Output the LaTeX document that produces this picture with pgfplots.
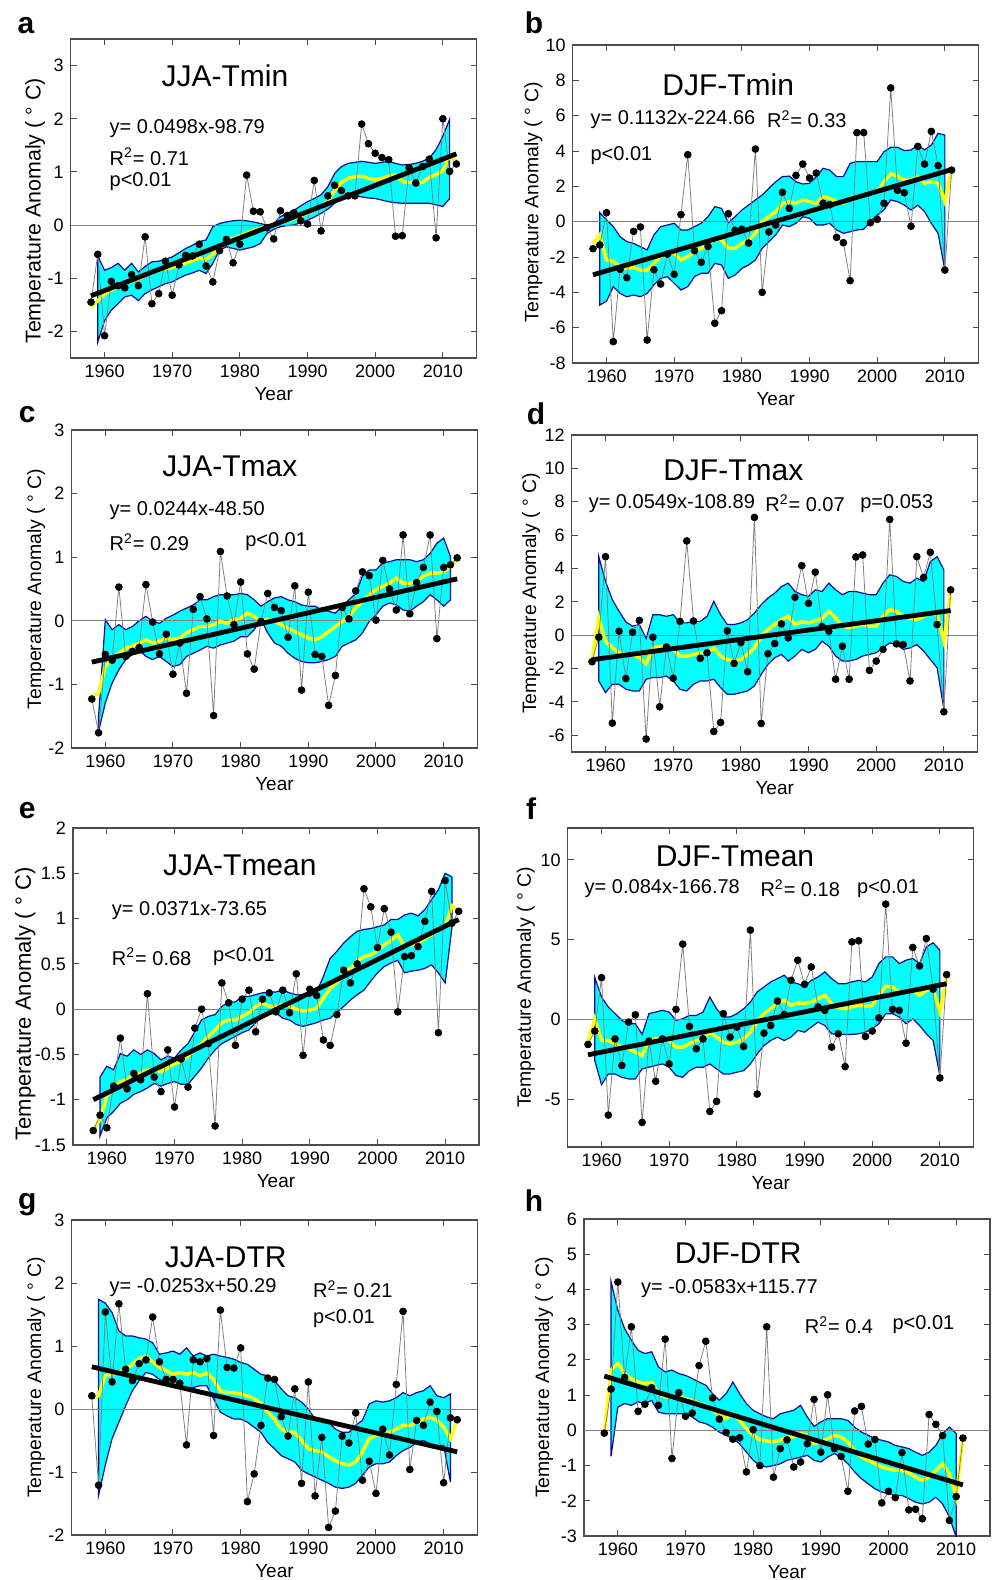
\documentclass[border=0pt]{standalone}
\usepackage{fontspec}
\setmainfont{Liberation Sans}
\usepackage{pgfplots}
\pgfplotsset{compat=1.18}
\usepackage{pgfplotstable}
\definecolor{bandedge}{RGB}{10,10,150}
\definecolor{bandfill}{RGB}{0,255,255}
\definecolor{yelc}{RGB}{255,255,0}

% ---------------- Panel a : JJA-Tmin ----------------
\pgfplotstableread[row sep=\\]{yr v\\
1958 -1.45\\1959 -0.55\\1960 -2.08\\1961 -1.06\\1962 -1.14\\1963 -1.18\\1964 -0.93\\1965 -1.14\\1966 -0.22\\1967 -1.48\\
1968 -1.29\\1969 -0.68\\1970 -1.32\\1971 -0.75\\1972 -0.57\\1973 -0.58\\1974 -0.36\\1975 -0.77\\1976 -1.07\\1977 -0.48\\
1978 -0.27\\1979 -0.71\\1980 -0.36\\1981 0.94\\1982 0.26\\1983 0.25\\1984 -0.05\\1985 -0.26\\1986 0.27\\1987 0.18\\
1988 0.23\\1989 0.08\\1990 0.02\\1991 0.84\\1992 -0.11\\1993 0.55\\1994 0.75\\1995 0.65\\1996 0.55\\1997 0.55\\
1998 1.90\\1999 1.53\\2000 1.35\\2001 1.27\\2002 1.23\\2003 -0.21\\2004 -0.20\\2005 1.08\\2006 0.79\\2007 1.10\\
2008 1.24\\2009 -0.24\\2010 2.00\\2011 1.01\\2012 1.15\\}\ptsA
\pgfplotstableread[row sep=\\]{yr v\\
1958 -1.55\\1959 -1.42\\1960 -1.30\\1961 -1.22\\1962 -1.15\\1963 -1.10\\1964 -1.05\\1965 -1.02\\1966 -0.95\\1967 -0.90\\
1968 -0.85\\1969 -0.82\\1970 -0.80\\1971 -0.76\\1972 -0.72\\1973 -0.67\\1974 -0.62\\1975 -0.65\\1976 -0.55\\1977 -0.40\\
1978 -0.30\\1979 -0.25\\1980 -0.20\\1981 -0.15\\1982 -0.10\\1983 -0.06\\1984 -0.02\\1985 0.02\\1986 0.05\\1987 0.08\\
1988 0.12\\1989 0.17\\1990 0.22\\1991 0.28\\1992 0.35\\1993 0.45\\1994 0.65\\1995 0.80\\1996 0.88\\1997 0.91\\
1998 0.92\\1999 0.88\\2000 0.85\\2001 0.88\\2002 0.92\\2003 0.95\\2004 0.82\\2005 0.80\\2006 0.80\\2007 0.80\\
2008 0.90\\2009 0.95\\2010 1.02\\2011 1.30\\2012 1.20\\}\yelA

% ---------------- Panel b : DJF-Tmin ----------------
\pgfplotstableread[row sep=\\]{yr v\\
1958 -1.53\\1959 -1.32\\1960 0.51\\1961 -6.79\\1962 -2.70\\1963 -3.17\\1964 -0.55\\1965 -0.30\\1966 -6.70\\1967 -2.72\\
1968 -3.53\\1969 -1.83\\1970 -2.98\\1971 0.40\\1972 3.79\\1973 -1.64\\1974 -2.30\\1975 -1.40\\1976 -5.75\\1977 -5.04\\
1978 0.45\\1979 -0.49\\1980 -0.43\\1981 -1.21\\1982 4.11\\1983 -4.00\\1984 -0.58\\1985 -0.19\\1986 1.66\\1987 0.75\\
1988 2.62\\1989 3.26\\1990 2.47\\1991 2.75\\1992 1.04\\1993 0.96\\1994 -0.89\\1995 -1.19\\1996 -3.34\\1997 5.04\\
1998 5.04\\1999 -0.06\\2000 0.13\\2001 1.04\\2002 7.57\\2003 1.77\\2004 1.64\\2005 -0.26\\2006 4.26\\2007 3.26\\
2008 5.11\\2009 3.17\\2010 -2.74\\2011 2.92\\}\ptsB
\pgfplotstableread[row sep=\\]{yr v\\
1958 -1.23\\1959 -0.75\\1960 -2.17\\1961 -2.26\\1962 -2.55\\1963 -2.64\\1964 -2.58\\1965 -2.74\\1966 -2.77\\1967 -2.36\\
1968 -1.98\\1969 -1.75\\1970 -1.79\\1971 -2.17\\1972 -1.98\\1973 -1.70\\1974 -1.51\\1975 -1.32\\1976 -0.94\\1977 -1.04\\
1978 -1.51\\1979 -1.51\\1980 -1.23\\1981 -1.04\\1982 -0.66\\1983 0.00\\1984 0.28\\1985 0.57\\1986 1.04\\1987 1.13\\
1988 1.04\\1989 1.23\\1990 1.13\\1991 1.04\\1992 1.42\\1993 1.32\\1994 1.13\\1995 1.04\\1996 1.32\\1997 1.42\\
1998 1.47\\1999 1.60\\2000 1.70\\2001 2.26\\2002 2.70\\2003 2.58\\2004 2.36\\2005 2.36\\2006 2.55\\2007 2.17\\
2008 2.26\\2009 2.17\\2010 1.13\\2011 2.92\\}\yelB

% ---------------- Panel c : JJA-Tmax ----------------
\pgfplotstableread[row sep=\\]{yr v\\
1958 -1.23\\1959 -1.76\\1960 -0.53\\1961 -0.62\\1962 0.53\\1963 -0.56\\1964 -0.48\\1965 -0.42\\1966 0.57\\1967 -0.02\\
1968 -0.52\\1969 -0.21\\1970 -0.84\\1971 -0.35\\1972 -1.14\\1973 0.18\\1974 0.38\\1975 0.03\\1976 -1.49\\1977 1.09\\
1978 0.39\\1979 -0.06\\1980 0.61\\1981 -0.52\\1982 -0.76\\1983 -0.01\\1984 0.43\\1985 0.21\\1986 0.16\\1987 -0.26\\
1988 0.55\\1989 -1.09\\1990 0.45\\1991 -0.53\\1992 -0.56\\1993 -1.33\\1994 -0.86\\1995 0.21\\1996 0.03\\1997 0.47\\
1998 0.77\\1999 0.71\\2000 0.01\\2001 0.95\\2002 0.50\\2003 0.17\\2004 1.35\\2005 0.11\\2006 0.60\\2007 0.84\\
2008 1.35\\2009 -0.28\\2010 0.84\\2011 0.88\\2012 0.99\\}\ptsC
\pgfplotstableread[row sep=\\]{yr v\\
1958 -1.19\\1959 -1.14\\1960 -0.72\\1961 -0.61\\1962 -0.51\\1963 -0.43\\1964 -0.40\\1965 -0.35\\1966 -0.30\\1967 -0.35\\
1968 -0.32\\1969 -0.27\\1970 -0.30\\1971 -0.27\\1972 -0.19\\1973 -0.14\\1974 -0.09\\1975 -0.09\\1976 -0.06\\1977 -0.01\\
1978 -0.04\\1979 0.02\\1980 0.04\\1981 0.12\\1982 0.07\\1983 -0.01\\1984 0.02\\1985 -0.01\\1986 -0.06\\1987 -0.12\\
1988 -0.17\\1989 -0.22\\1990 -0.27\\1991 -0.30\\1992 -0.25\\1993 -0.17\\1994 -0.09\\1995 -0.01\\1996 0.07\\1997 0.20\\
1998 0.30\\1999 0.41\\2000 0.49\\2001 0.54\\2002 0.59\\2003 0.67\\2004 0.59\\2005 0.59\\2006 0.62\\2007 0.70\\
2008 0.75\\2009 0.75\\2010 0.77\\2011 0.85\\2012 0.98\\}\yelC

% ---------------- Panel d : DJF-Tmax ----------------
\pgfplotstableread[row sep=\\]{yr v\\
1958 -1.59\\1959 -0.12\\1960 4.71\\1961 -5.27\\1962 0.24\\1963 -2.60\\1964 0.18\\1965 0.89\\1966 -6.22\\1967 -0.12\\
1968 -4.29\\1969 -0.70\\1970 -2.58\\1971 0.83\\1972 5.65\\1973 0.85\\1974 -1.39\\1975 -1.05\\1976 -5.77\\1977 -5.23\\
1978 0.26\\1979 -1.69\\1980 -0.44\\1981 -2.19\\1982 7.06\\1983 -5.29\\1984 -1.11\\1985 -0.50\\1986 0.68\\1987 -0.16\\
1988 2.27\\1989 4.17\\1990 1.91\\1991 3.78\\1992 0.52\\1993 0.24\\1994 -2.64\\1995 -0.66\\1996 -2.64\\1997 4.69\\
1998 4.81\\1999 -2.11\\2000 -1.55\\2001 -0.85\\2002 6.94\\2003 -0.52\\2004 -0.56\\2005 -2.74\\2006 4.71\\2007 3.46\\
2008 4.97\\2009 0.64\\2010 -4.59\\2011 2.72\\}\ptsD
\pgfplotstableread[row sep=\\]{yr v\\
1958 -1.45\\1959 1.03\\1960 -0.36\\1961 -0.76\\1962 -1.05\\1963 -1.15\\1964 -1.15\\1965 -1.35\\1966 -1.71\\1967 -0.76\\
1968 -0.66\\1969 -0.66\\1970 -0.85\\1971 -1.25\\1972 -1.25\\1973 -1.15\\1974 -1.05\\1975 -1.05\\1976 -0.76\\1977 -1.25\\
1978 -1.45\\1979 -1.55\\1980 -1.45\\1981 -1.15\\1982 -0.76\\1983 -0.06\\1984 0.34\\1985 0.64\\1986 0.93\\1987 1.13\\
1988 0.64\\1989 0.80\\1990 0.74\\1991 0.87\\1992 0.99\\1993 1.43\\1994 1.03\\1995 0.54\\1996 0.44\\1997 0.54\\
1998 0.64\\1999 0.54\\2000 0.54\\2001 1.13\\2002 1.53\\2003 1.43\\2004 1.13\\2005 1.03\\2006 0.93\\2007 1.13\\
2008 1.33\\2009 1.23\\2010 -0.36\\2011 2.52\\}\yelD

% ---------------- Panel e : JJA-Tmean ----------------
\pgfplotstableread[row sep=\\]{yr v\\
1958 -1.34\\1959 -1.17\\1960 -1.31\\1961 -0.85\\1962 -0.32\\1963 -0.88\\1964 -0.71\\1965 -0.78\\1966 0.17\\1967 -0.75\\
1968 -0.91\\1969 -0.45\\1970 -1.08\\1971 -0.55\\1972 -0.86\\1973 -0.21\\1974 0.00\\1975 -0.38\\1976 -1.29\\1977 0.29\\
1978 0.07\\1979 -0.40\\1980 0.11\\1981 0.21\\1982 -0.25\\1983 0.11\\1984 0.18\\1985 -0.03\\1986 0.21\\1987 -0.04\\
1988 0.39\\1989 -0.51\\1990 0.22\\1991 0.15\\1992 -0.34\\1993 -0.40\\1994 -0.06\\1995 0.43\\1996 0.29\\1997 0.50\\
1998 1.33\\1999 1.13\\2000 0.68\\2001 1.11\\2002 0.85\\2003 -0.03\\2004 0.58\\2005 0.59\\2006 0.69\\2007 0.97\\
2008 1.30\\2009 -0.26\\2010 1.42\\2011 0.95\\2012 1.08\\}\ptsE
\pgfplotstableread[row sep=\\]{yr v\\
1958 -1.33\\1959 -1.22\\1960 -0.96\\1961 -0.87\\1962 -0.80\\1963 -0.78\\1964 -0.71\\1965 -0.71\\1966 -0.67\\1967 -0.67\\
1968 -0.69\\1969 -0.65\\1970 -0.60\\1971 -0.58\\1972 -0.52\\1973 -0.45\\1974 -0.38\\1975 -0.30\\1976 -0.23\\1977 -0.15\\
1978 -0.12\\1979 -0.12\\1980 -0.08\\1981 -0.04\\1982 0.03\\1983 0.07\\1984 0.03\\1985 0.03\\1986 0.05\\1987 0.03\\
1988 0.00\\1989 -0.02\\1990 -0.01\\1991 0.01\\1992 0.12\\1993 0.23\\1994 0.29\\1995 0.40\\1996 0.45\\1997 0.53\\
1998 0.58\\1999 0.60\\2000 0.65\\2001 0.71\\2002 0.76\\2003 0.82\\2004 0.69\\2005 0.71\\2006 0.73\\2007 0.78\\
2008 0.82\\2009 0.88\\2010 0.91\\2011 1.14\\2012 1.08\\}\yelE

% ---------------- Panel f : DJF-Tmean ----------------
\pgfplotstableread[row sep=\\]{yr v\\
1958 -1.57\\1959 -0.73\\1960 2.62\\1961 -6.00\\1962 -1.22\\1963 -2.89\\1964 -0.17\\1965 0.29\\1966 -6.46\\1967 -1.36\\
1968 -3.88\\1969 -1.22\\1970 -2.79\\1971 0.63\\1972 4.72\\1973 -0.44\\1974 -1.84\\1975 -1.22\\1976 -5.77\\1977 -5.14\\
1978 0.36\\1979 -1.11\\1980 -0.48\\1981 -1.70\\1982 5.60\\1983 -4.68\\1984 -0.86\\1985 -0.38\\1986 1.15\\1987 0.31\\
1988 2.45\\1989 3.71\\1990 2.20\\1991 3.29\\1992 0.78\\1993 0.57\\1994 -1.74\\1995 -0.90\\1996 -2.96\\1997 4.86\\
1998 4.93\\1999 -1.07\\2000 -0.73\\2001 0.10\\2002 7.23\\2003 0.63\\2004 0.57\\2005 -1.49\\2006 4.51\\2007 3.35\\
2008 5.07\\2009 1.89\\2010 -3.67\\2011 2.81\\}\ptsF
\pgfplotstableread[row sep=\\]{yr v\\
1958 -1.36\\1959 0.04\\1960 -1.32\\1961 -1.32\\1962 -1.53\\1963 -1.74\\1964 -1.84\\1965 -2.05\\1966 -2.26\\1967 -1.32\\
1968 -1.22\\1969 -1.22\\1970 -1.32\\1971 -1.74\\1972 -1.74\\1973 -1.53\\1974 -1.32\\1975 -1.22\\1976 -0.80\\1977 -1.11\\
1978 -1.43\\1979 -1.53\\1980 -1.43\\1981 -1.22\\1982 -0.80\\1983 -0.17\\1984 0.36\\1985 0.67\\1986 0.99\\1987 1.20\\
1988 0.88\\1989 1.03\\1990 0.99\\1991 1.09\\1992 1.30\\1993 1.51\\1994 0.99\\1995 0.73\\1996 0.67\\1997 0.78\\
1998 0.88\\1999 0.82\\2000 0.88\\2001 1.51\\2002 2.08\\2003 2.03\\2004 1.72\\2005 1.72\\2006 1.82\\2007 1.51\\
2008 1.82\\2009 1.93\\2010 0.46\\2011 2.66\\}\yelF

% ---------------- Panel g : JJA-DTR ----------------
\pgfplotstableread[row sep=\\]{yr v\\
1958 0.21\\1959 -1.21\\1960 1.54\\1961 0.43\\1962 1.67\\1963 0.63\\1964 0.45\\1965 0.72\\1966 0.78\\1967 1.46\\
1968 0.75\\1969 0.47\\1970 0.47\\1971 0.41\\1972 -0.57\\1973 0.78\\1974 0.75\\1975 0.80\\1976 -0.42\\1977 1.57\\
1978 0.66\\1979 0.65\\1980 0.97\\1981 -1.47\\1982 -1.03\\1983 -0.26\\1984 0.49\\1985 0.47\\1986 -0.12\\1987 -0.43\\
1988 0.32\\1989 -1.18\\1990 0.43\\1991 -1.38\\1992 -0.45\\1993 -1.88\\1994 -1.62\\1995 -0.43\\1996 -0.54\\1997 -0.06\\
1998 -1.13\\1999 -0.83\\2000 -1.34\\2001 -0.32\\2002 -0.73\\2003 0.39\\2004 1.55\\2005 -0.96\\2006 -0.18\\2007 -0.26\\
2008 0.11\\2009 -0.04\\2010 -1.17\\2011 -0.14\\2012 -0.17\\}\ptsG
\pgfplotstableread[row sep=\\]{yr v\\
1958 0.17\\1959 0.21\\1960 0.53\\1961 0.55\\1962 0.58\\1963 0.63\\1964 0.71\\1965 0.80\\1966 0.84\\1967 0.75\\
1968 0.66\\1969 0.61\\1970 0.55\\1971 0.58\\1972 0.55\\1973 0.58\\1974 0.53\\1975 0.57\\1976 0.47\\1977 0.29\\
1978 0.26\\1979 0.26\\1980 0.24\\1981 0.21\\1982 0.16\\1983 0.09\\1984 -0.05\\1985 -0.16\\1986 -0.32\\1987 -0.37\\
1988 -0.37\\1989 -0.50\\1990 -0.63\\1991 -0.66\\1992 -0.68\\1993 -0.76\\1994 -0.82\\1995 -0.87\\1996 -0.89\\1997 -0.84\\
1998 -0.68\\1999 -0.47\\2000 -0.42\\2001 -0.39\\2002 -0.37\\2003 -0.32\\2004 -0.26\\2005 -0.26\\2006 -0.21\\2007 -0.16\\
2008 -0.13\\2009 -0.18\\2010 -0.29\\2011 -0.47\\2012 -0.17\\}\yelG

% ---------------- Panel h : DJF-DTR ----------------
\pgfplotstableread[row sep=\\]{yr v\\
1958 -0.08\\1959 1.17\\1960 4.21\\1961 1.50\\1962 2.94\\1963 0.54\\1964 0.74\\1965 1.21\\1966 0.71\\1967 2.59\\
1968 -0.80\\1969 1.07\\1970 0.40\\1971 0.49\\1972 1.84\\1973 2.53\\1974 0.92\\1975 0.32\\1976 -0.06\\1977 -0.25\\
1978 -0.21\\1979 -1.18\\1980 0.02\\1981 -1.00\\1982 2.94\\1983 -1.33\\1984 -0.52\\1985 -0.27\\1986 -1.04\\1987 -0.90\\
1988 -0.38\\1989 0.88\\1990 -0.62\\1991 1.01\\1992 -0.52\\1993 -0.74\\1994 -1.73\\1995 0.55\\1996 0.68\\1997 -0.39\\
1998 -0.26\\1999 -2.06\\2000 -1.73\\2001 -1.91\\2002 -0.63\\2003 -2.26\\2004 -2.24\\2005 -2.51\\2006 0.45\\2007 0.17\\
2008 -0.15\\2009 -2.56\\2010 -1.88\\2011 -0.22\\}\ptsH
\pgfplotstableread[row sep=\\]{yr v\\
1958 -0.08\\1959 1.71\\1960 1.90\\1961 1.61\\1962 1.47\\1963 1.37\\1964 1.33\\1965 1.37\\1966 1.04\\1967 0.95\\
1968 0.95\\1969 0.95\\1970 0.90\\1971 0.85\\1972 0.76\\1973 0.71\\1974 0.57\\1975 0.43\\1976 0.33\\1977 0.47\\
1978 0.28\\1979 0.05\\1980 -0.14\\1981 -0.27\\1982 -0.30\\1983 -0.33\\1984 -0.28\\1985 -0.19\\1986 -0.19\\1987 -0.09\\
1988 -0.14\\1989 -0.38\\1990 -0.33\\1991 -0.24\\1992 -0.14\\1993 -0.19\\1994 -0.33\\1995 -0.57\\1996 -0.76\\1997 -0.85\\
1998 -0.95\\1999 -1.04\\2000 -1.09\\2001 -1.14\\2002 -1.14\\2003 -1.21\\2004 -1.33\\2005 -1.42\\2006 -1.33\\2007 -1.14\\
2008 -0.95\\2009 -1.23\\2010 -1.90\\2011 -0.22\\}\yelH

\pgfplotsset{
  panel/.style={
    anchor=north west, width=203pt, scale only axis,
    xmin=1955, xmax=2015, xtick={1960,1970,1980,1990,2000,2010},
    tick align=inside, major tick length=3pt,
    axis line style={draw=black!70, line width=0.6pt},
    tick style={black!70, line width=0.5pt},
    ticklabel style={font=\fontsize{9}{10}\selectfont, text=black},
    xticklabel style={/pgf/number format/1000 sep={}},
    /pgf/number format/assume math mode=true,
    xlabel={Year},
    xlabel style={font=\fontsize{9.5}{11}\selectfont, at={(axis description cs:0.5,0)}, anchor=center, yshift=-18pt},
    ylabel={Temperature Anomaly ( ° C)},
    ylabel style={font=\fontsize{9.7}{11}\selectfont, anchor=center},
  },
  bandpoly/.style={fill=bandfill, draw=bandedge, line width=0.6pt},
  yelline/.style={draw=yelc, line width=1.7pt},
  obs/.style={draw=black!50, line width=0.4pt, mark=*, mark size=1.7pt, mark options={draw=black, fill=black, solid}},
  reg/.style={draw=black, line width=2.4pt},
  zero/.style={draw=black!50, line width=0.5pt},
}
\tikzset{
  eqn/.style={font=\fontsize{10}{12}\selectfont, anchor=west, inner sep=0pt},
  ttl/.style={font=\fontsize{15}{18}\selectfont, anchor=center, inner sep=0pt},
  lett/.style={font=\bfseries\fontsize{15}{18}\selectfont, anchor=base, inner sep=0pt},
}

\begin{document}
\begin{tikzpicture}
\path[use as bounding box] (0,0) rectangle (496pt,-790pt);

% ===== a =====
\begin{axis}[panel, at={(35.35pt,-19.5pt)}, height=159.5pt, ymin=-2.5, ymax=3.5, ytick={-2,-1,0,1,2,3},
  ylabel style={font=\fontsize{10.7}{12}\selectfont, at={(axis description cs:-0.088,0.461)}}]
\addplot[bandpoly] coordinates {(1959,-0.58)(1960,-0.85)(1961,-0.80)(1962,-0.72)(1963,-0.85)(1964,-0.72)(1965,-0.88)(1966,-0.78)(1967,-0.69)(1968,-0.68)(1969,-0.64)(1970,-0.60)(1971,-0.52)(1972,-0.44)(1973,-0.38)(1974,-0.31)(1975,-0.28)(1976,-0.03)(1977,0.03)(1978,0.06)(1979,0.08)(1980,0.09)(1981,0.08)(1982,0.06)(1983,0.03)(1984,0.00)(1985,0.03)(1986,0.16)(1987,0.22)(1988,0.28)(1989,0.36)(1990,0.44)(1991,0.50)(1992,0.57)(1993,0.72)(1994,0.97)(1995,1.10)(1996,1.16)(1997,1.18)(1998,1.20)(1999,1.18)(2000,1.16)(2001,1.18)(2002,1.20)(2003,1.16)(2004,1.13)(2005,1.14)(2006,1.16)(2007,1.20)(2008,1.26)(2009,1.42)(2010,1.67)(2011,1.99)
(2011,0.50)(2010,0.35)(2009,0.38)(2008,0.41)(2007,0.41)(2006,0.41)(2005,0.41)(2004,0.41)(2003,0.42)(2002,0.44)(2001,0.47)(2000,0.50)(1999,0.51)(1998,0.53)(1997,0.55)(1996,0.57)(1995,0.53)(1994,0.41)(1993,0.30)(1992,0.22)(1991,0.15)(1990,0.09)(1989,0.05)(1988,0.00)(1987,-0.01)(1986,-0.03)(1985,-0.08)(1984,-0.16)(1983,-0.35)(1982,-0.41)(1981,-0.44)(1980,-0.47)(1979,-0.44)(1978,-0.41)(1977,-0.47)(1976,-0.72)(1975,-0.91)(1974,-0.85)(1973,-0.90)(1972,-0.94)(1971,-1.00)(1970,-1.07)(1969,-1.10)(1968,-1.16)(1967,-1.22)(1966,-1.29)(1965,-1.42)(1964,-1.32)(1963,-1.35)(1962,-1.48)(1961,-1.60)(1960,-1.80)(1959,-2.20)} -- cycle;
\addplot[zero] coordinates {(1955,0) (2015,0)};
\addplot[yelline] table[x=yr,y=v]{\yelA};
\addplot[obs] table[x=yr,y=v]{\ptsA};
\addplot[reg] coordinates {(1958,-1.33) (2012,1.34)};
\node[ttl] at (rel axis cs:0.38,0.885) {JJA-Tmin};
\node[eqn] at (rel axis cs:0.095,0.72) {y= 0.0498x-98.79};
\node[eqn] at (rel axis cs:0.095,0.631) {R\textsuperscript{2}= 0.71};
\node[eqn] at (rel axis cs:0.095,0.553) {p<0.01};
\end{axis}

% ===== b =====
\begin{axis}[panel, at={(286.35pt,-22.5pt)}, height=159pt, ymin=-8, ymax=10, ytick={-8,-6,-4,-2,0,2,4,6,8,10},
  ylabel style={at={(axis description cs:-0.097,0.506)}}]
\addplot[bandpoly] coordinates {(1959,0.51)(1960,0.10)(1961,-0.28)(1962,-0.85)(1963,-1.13)(1964,-1.23)(1965,-1.42)(1966,-1.60)(1967,-0.75)(1968,-0.28)(1969,-0.19)(1970,-0.09)(1971,-0.47)(1972,-0.47)(1973,-0.28)(1974,-0.09)(1975,0.28)(1976,0.85)(1977,0.75)(1978,-0.06)(1979,0.28)(1980,0.66)(1981,0.94)(1982,1.23)(1983,1.51)(1984,1.89)(1985,2.26)(1986,2.55)(1987,2.58)(1988,2.26)(1989,2.13)(1990,2.17)(1991,2.55)(1992,3.02)(1993,2.92)(1994,2.55)(1995,2.55)(1996,3.30)(1997,3.40)(1998,3.40)(1999,3.40)(2000,3.40)(2001,3.96)(2002,4.21)(2003,4.21)(2004,4.02)(2005,4.06)(2006,4.34)(2007,4.06)(2008,4.34)(2009,5.00)(2010,4.90)
(2010,-2.74)(2009,-0.66)(2008,-0.09)(2007,0.57)(2006,0.94)(2005,0.66)(2004,0.94)(2003,1.13)(2002,1.23)(2001,0.66)(2000,0.38)(1999,0.00)(1998,-0.43)(1997,-0.47)(1996,-0.57)(1995,-0.66)(1994,-0.47)(1993,-0.09)(1992,-0.19)(1991,-0.19)(1990,0.19)(1989,0.28)(1988,-0.09)(1987,-0.28)(1986,-0.19)(1985,-0.75)(1984,-1.13)(1983,-1.51)(1982,-2.17)(1981,-2.45)(1980,-2.64)(1979,-3.02)(1978,-3.21)(1977,-2.45)(1976,-2.36)(1975,-2.92)(1974,-2.92)(1973,-3.11)(1972,-3.68)(1971,-3.87)(1970,-3.49)(1969,-3.11)(1968,-3.21)(1967,-3.58)(1966,-4.06)(1965,-4.25)(1964,-4.15)(1963,-4.25)(1962,-4.06)(1961,-3.68)(1960,-4.50)(1959,-4.72)} -- cycle;
\addplot[zero] coordinates {(1955,0) (2015,0)};
\addplot[yelline] table[x=yr,y=v]{\yelB};
\addplot[obs] table[x=yr,y=v]{\ptsB};
\addplot[reg] coordinates {(1958,-3.01) (2011,2.95)};
\node[ttl] at (rel axis cs:0.383,0.874) {DJF-Tmin};
\node[eqn] at (rel axis cs:0.043,0.766) {y= 0.1132x-224.66};
\node[eqn] at (rel axis cs:0.478,0.766) {R\textsuperscript{2}= 0.33};
\node[eqn] at (rel axis cs:0.043,0.651) {p<0.01};
\end{axis}

% ===== c =====
\begin{axis}[panel, at={(35.75pt,-215pt)}, height=159pt, ymin=-2, ymax=3, ytick={-2,-1,0,1,2,3},
  ylabel style={at={(axis description cs:-0.087,0.5)}}]
\addplot[bandpoly] coordinates {(1959,-1.50)(1960,0.02)(1961,-0.14)(1962,-0.06)(1963,-0.14)(1964,-0.09)(1965,0.00)(1966,0.07)(1967,-0.01)(1968,-0.04)(1969,0.04)(1970,0.09)(1971,0.15)(1972,0.20)(1973,0.25)(1974,0.33)(1975,0.33)(1976,0.38)(1977,0.41)(1978,0.41)(1979,0.41)(1980,0.43)(1981,0.41)(1982,0.33)(1983,0.23)(1984,0.30)(1985,0.36)(1986,0.38)(1987,0.33)(1988,0.30)(1989,0.25)(1990,0.23)(1991,0.23)(1992,0.17)(1993,0.15)(1994,0.12)(1995,0.23)(1996,0.33)(1997,0.43)(1998,0.70)(1999,0.80)(2000,0.80)(2001,0.91)(2002,0.93)(2003,0.96)(2004,0.96)(2005,0.96)(2006,0.93)(2007,0.96)(2008,1.06)(2009,1.22)(2010,1.30)(2011,1.01)
(2011,0.33)(2010,0.23)(2009,0.33)(2008,0.41)(2007,0.30)(2006,0.23)(2005,0.15)(2004,0.17)(2003,0.25)(2002,0.28)(2001,0.23)(2000,0.09)(1999,-0.01)(1998,-0.19)(1997,-0.30)(1996,-0.35)(1995,-0.40)(1994,-0.56)(1993,-0.61)(1992,-0.64)(1991,-0.66)(1990,-0.66)(1989,-0.64)(1988,-0.59)(1987,-0.51)(1986,-0.40)(1985,-0.35)(1984,-0.19)(1983,0.02)(1982,-0.14)(1981,-0.25)(1980,-0.25)(1979,-0.32)(1978,-0.35)(1977,-0.38)(1976,-0.43)(1975,-0.40)(1974,-0.46)(1973,-0.51)(1972,-0.56)(1971,-0.69)(1970,-0.72)(1969,-0.64)(1968,-0.56)(1967,-0.61)(1966,-0.56)(1965,-0.46)(1964,-0.53)(1963,-0.61)(1962,-0.77)(1961,-0.98)(1960,-1.29)(1959,-1.74)} -- cycle;
\addplot[zero] coordinates {(1955,0) (2015,0)};
\addplot[yelline] table[x=yr,y=v]{\yelC};
\addplot[obs] table[x=yr,y=v]{\ptsC};
\addplot[reg] coordinates {(1958,-0.65) (2012,0.66)};
\node[ttl] at (rel axis cs:0.39,0.885) {JJA-Tmax};
\node[eqn] at (rel axis cs:0.093,0.748) {y= 0.0244x-48.50};
\node[eqn] at (rel axis cs:0.093,0.646) {R\textsuperscript{2}= 0.29};
\node[eqn] at (rel axis cs:0.427,0.649) {p<0.01};
\end{axis}

% ===== d =====
\begin{axis}[panel, at={(285.85pt,-217.5pt)}, height=158.5pt, ymin=-7, ymax=12, ytick={-6,-4,-2,0,2,4,6,8,10,12},
  ylabel style={at={(axis description cs:-0.1,0.5)}}]
\addplot[bandpoly] coordinates {(1959,4.71)(1960,3.22)(1961,2.13)(1962,1.43)(1963,0.80)(1964,0.54)(1965,0.64)(1966,-0.20)(1967,1.23)(1968,1.23)(1969,1.13)(1970,1.23)(1971,0.74)(1972,0.74)(1973,0.83)(1974,0.83)(1975,1.13)(1976,2.03)(1977,1.23)(1978,0.64)(1979,0.64)(1980,0.74)(1981,0.93)(1982,1.33)(1983,1.83)(1984,2.23)(1985,2.52)(1986,2.92)(1987,3.12)(1988,2.62)(1989,2.43)(1990,2.33)(1991,2.72)(1992,2.62)(1993,3.12)(1994,2.72)(1995,2.43)(1996,2.62)(1997,2.62)(1998,2.52)(1999,2.43)(2000,2.43)(2001,3.12)(2002,3.62)(2003,3.52)(2004,3.22)(2005,3.12)(2006,3.42)(2007,3.22)(2008,4.41)(2009,4.71)(2010,3.92)
(2010,-4.43)(2009,-1.95)(2008,-1.45)(2007,-0.95)(2006,-0.56)(2005,-0.76)(2004,-0.85)(2003,-0.56)(2002,-0.46)(2001,-0.76)(2000,-1.05)(1999,-1.15)(1998,-1.25)(1997,-1.45)(1996,-1.55)(1995,-1.55)(1994,-1.25)(1993,-0.66)(1992,-0.36)(1991,-0.85)(1990,-1.05)(1989,-0.85)(1988,-1.25)(1987,-1.55)(1986,-1.15)(1985,-1.35)(1984,-1.75)(1983,-2.35)(1982,-3.04)(1981,-3.34)(1980,-3.44)(1979,-3.54)(1978,-3.54)(1977,-3.14)(1976,-2.64)(1975,-2.74)(1974,-2.74)(1973,-2.94)(1972,-3.34)(1971,-3.24)(1970,-2.74)(1969,-2.45)(1968,-2.54)(1967,-2.54)(1966,-2.64)(1965,-3.34)(1964,-3.34)(1963,-3.24)(1962,-2.94)(1961,-2.94)(1960,-3.44)(1959,-2.74)} -- cycle;
\addplot[zero] coordinates {(1955,0) (2015,0)};
\addplot[yelline] table[x=yr,y=v]{\yelD};
\addplot[obs] table[x=yr,y=v]{\ptsD};
\addplot[reg] coordinates {(1958,-1.47) (2011,1.48)};
\node[ttl] at (rel axis cs:0.398,0.89) {DJF-Tmax};
\node[eqn] at (rel axis cs:0.041,0.785) {y= 0.0549x-108.89};
\node[eqn] at (rel axis cs:0.476,0.785) {R\textsuperscript{2}= 0.07};
\node[eqn] at (rel axis cs:0.71,0.785) {p=0.053};
\end{axis}

% ===== e =====
\begin{axis}[panel, at={(36.5pt,-414pt)}, height=158.5pt, ymin=-1.5, ymax=2, ytick={-1.5,-1,-0.5,0,0.5,1,1.5,2},
  ylabel style={font=\fontsize{11}{13}\selectfont, at={(axis description cs:-0.118,0.445)}}]
\addplot[bandpoly] coordinates {(1959,-0.75)(1960,-0.63)(1961,-0.67)(1962,-0.49)(1963,-0.52)(1964,-0.45)(1965,-0.50)(1966,-0.45)(1967,-0.49)(1968,-0.56)(1969,-0.52)(1970,-0.54)(1971,-0.45)(1972,-0.38)(1973,-0.25)(1974,-0.12)(1975,-0.08)(1976,-0.06)(1977,0.03)(1978,0.08)(1979,0.08)(1980,0.14)(1981,0.14)(1982,0.16)(1983,0.18)(1984,0.19)(1985,0.19)(1986,0.21)(1987,0.18)(1988,0.16)(1989,0.16)(1990,0.14)(1991,0.19)(1992,0.36)(1993,0.56)(1994,0.64)(1995,0.73)(1996,0.80)(1997,0.86)(1998,0.88)(1999,0.89)(2000,0.91)(2001,0.93)(2002,0.99)(2003,0.99)(2004,1.04)(2005,1.06)(2006,1.03)(2007,1.10)(2008,1.21)(2009,1.32)(2010,1.50)(2011,1.46)
(2011,0.90)(2010,0.29)(2009,0.40)(2008,0.49)(2007,0.45)(2006,0.43)(2005,0.42)(2004,0.40)(2003,0.54)(2002,0.51)(2001,0.47)(2000,0.40)(1999,0.31)(1998,0.21)(1997,0.16)(1996,0.10)(1995,0.03)(1994,-0.04)(1993,-0.10)(1992,-0.12)(1991,-0.15)(1990,-0.17)(1989,-0.19)(1988,-0.17)(1987,-0.12)(1986,-0.10)(1985,-0.04)(1984,-0.03)(1983,-0.06)(1982,-0.15)(1981,-0.23)(1980,-0.26)(1979,-0.30)(1978,-0.34)(1977,-0.38)(1976,-0.45)(1975,-0.54)(1974,-0.65)(1973,-0.74)(1972,-0.83)(1971,-0.83)(1970,-0.80)(1969,-0.82)(1968,-0.85)(1967,-0.82)(1966,-0.87)(1965,-0.91)(1964,-0.94)(1963,-1.00)(1962,-1.04)(1961,-1.13)(1960,-1.20)(1959,-1.40)} -- cycle;
\addplot[zero] coordinates {(1955,0) (2015,0)};
\addplot[yelline] table[x=yr,y=v]{\yelE};
\addplot[obs] table[x=yr,y=v]{\ptsE};
\addplot[reg] coordinates {(1958,-1.00) (2012,0.99)};
\node[ttl] at (rel axis cs:0.411,0.883) {JJA-Tmean};
\node[eqn] at (rel axis cs:0.095,0.741) {y= 0.0371x-73.65};
\node[eqn] at (rel axis cs:0.095,0.594) {R\textsuperscript{2}= 0.68};
\node[eqn] at (rel axis cs:0.344,0.594) {p<0.01};
\end{axis}

% ===== f =====
\begin{axis}[panel, at={(283.85pt,-414pt)}, height=159.5pt, ymin=-8, ymax=12, ytick={-5,0,5,10},
  ylabel style={at={(axis description cs:-0.103,0.5)}}]
\addplot[bandpoly] coordinates {(1959,2.62)(1960,1.40)(1961,0.78)(1962,0.36)(1963,-0.06)(1964,-0.27)(1965,-0.27)(1966,-0.94)(1967,0.36)(1968,0.46)(1969,0.57)(1970,0.46)(1971,-0.06)(1972,0.04)(1973,0.25)(1974,0.25)(1975,0.46)(1976,1.40)(1977,0.67)(1978,0.15)(1979,0.15)(1980,0.36)(1981,0.67)(1982,1.09)(1983,1.72)(1984,2.03)(1985,2.35)(1986,2.56)(1987,2.77)(1988,2.35)(1989,2.24)(1990,2.03)(1991,2.45)(1992,2.66)(1993,2.98)(1994,2.56)(1995,2.24)(1996,2.24)(1997,2.35)(1998,2.45)(1999,2.35)(2000,2.66)(2001,3.50)(2002,3.92)(2003,3.92)(2004,3.50)(2005,3.71)(2006,3.82)(2007,3.50)(2008,4.55)(2009,4.80)(2010,4.34)
(2010,-3.52)(2009,-1.32)(2008,-0.90)(2007,-0.38)(2006,0.04)(2005,-0.27)(2004,0.15)(2003,0.36)(2002,0.36)(2001,-0.27)(2000,-0.59)(1999,-0.80)(1998,-0.90)(1997,-0.94)(1996,-0.94)(1995,-0.94)(1994,-0.90)(1993,-0.38)(1992,-0.17)(1991,-0.48)(1990,-0.80)(1989,-0.69)(1988,-1.11)(1987,-1.32)(1986,-1.11)(1985,-1.32)(1984,-1.64)(1983,-2.16)(1982,-2.79)(1981,-3.21)(1980,-3.31)(1979,-3.42)(1978,-3.42)(1977,-3.10)(1976,-2.79)(1975,-3.00)(1974,-3.00)(1973,-3.21)(1972,-3.63)(1971,-3.52)(1970,-3.00)(1969,-2.79)(1968,-2.89)(1967,-3.00)(1966,-3.10)(1965,-3.73)(1964,-3.73)(1963,-3.63)(1962,-3.42)(1961,-3.42)(1960,-4.09)(1959,-2.58)} -- cycle;
\addplot[zero] coordinates {(1955,0) (2015,0)};
\addplot[yelline] table[x=yr,y=v]{\yelF};
\addplot[obs] table[x=yr,y=v]{\ptsF};
\addplot[reg] coordinates {(1958,-2.22) (2011,2.24)};
\node[ttl] at (rel axis cs:0.412,0.91) {DJF-Tmean};
\node[eqn] at (rel axis cs:0.041,0.811) {y= 0.084x-166.78};
\node[eqn] at (rel axis cs:0.474,0.811) {R\textsuperscript{2}= 0.18};
\node[eqn] at (rel axis cs:0.712,0.811) {p<0.01};
\end{axis}

% ===== g =====
\begin{axis}[panel, at={(35.75pt,-610pt)}, height=157.5pt, ymin=-2, ymax=3, ytick={-2,-1,0,1,2,3},
  ylabel style={at={(axis description cs:-0.087,0.5)}}]
\addplot[bandpoly] coordinates {(1959,1.74)(1960,1.68)(1961,1.53)(1962,1.24)(1963,1.16)(1964,1.16)(1965,1.13)(1966,1.11)(1967,1.05)(1968,0.87)(1969,0.89)(1970,0.92)(1971,0.87)(1972,0.97)(1973,0.84)(1974,0.89)(1975,0.84)(1976,0.87)(1977,0.84)(1978,0.82)(1979,0.79)(1980,0.74)(1981,0.71)(1982,0.63)(1983,0.55)(1984,0.53)(1985,0.45)(1986,0.32)(1987,0.21)(1988,0.18)(1989,0.11)(1990,0.00)(1991,-0.16)(1992,-0.18)(1993,-0.21)(1994,-0.32)(1995,-0.37)(1996,-0.37)(1997,-0.26)(1998,-0.18)(1999,0.08)(2000,0.13)(2001,0.11)(2002,0.13)(2003,0.18)(2004,0.26)(2005,0.21)(2006,0.26)(2007,0.29)(2008,0.37)(2009,0.21)(2010,0.18)(2011,0.24)
(2011,-1.16)(2010,-0.58)(2009,-0.58)(2008,-0.55)(2007,-0.50)(2006,-0.53)(2005,-0.61)(2004,-0.66)(2003,-0.74)(2002,-0.84)(2001,-0.87)(2000,-0.87)(1999,-0.92)(1998,-1.05)(1997,-1.18)(1996,-1.24)(1995,-1.26)(1994,-1.24)(1993,-1.18)(1992,-1.13)(1991,-1.08)(1990,-1.03)(1989,-0.97)(1988,-0.84)(1987,-0.79)(1986,-0.74)(1985,-0.63)(1984,-0.53)(1983,-0.37)(1982,-0.29)(1981,-0.21)(1980,-0.16)(1979,-0.16)(1978,-0.11)(1977,-0.05)(1976,0.16)(1975,0.37)(1974,0.37)(1973,0.34)(1972,0.34)(1971,0.37)(1970,0.37)(1969,0.42)(1968,0.47)(1967,0.55)(1966,0.58)(1965,0.45)(1964,0.29)(1963,0.05)(1962,-0.21)(1961,-0.47)(1960,-0.89)(1959,-1.37)} -- cycle;
\addplot[zero] coordinates {(1955,0) (2015,0)};
\addplot[yelline] table[x=yr,y=v]{\yelG};
\addplot[obs] table[x=yr,y=v]{\ptsG};
\addplot[reg] coordinates {(1958,0.67) (2012,-0.68)};
\node[ttl] at (rel axis cs:0.38,0.883) {JJA-DTR};
\node[eqn] at (rel axis cs:0.093,0.786) {y= -0.0253x+50.29};
\node[eqn] at (rel axis cs:0.594,0.78) {R\textsuperscript{2}= 0.21};
\node[eqn] at (rel axis cs:0.594,0.688) {p<0.01};
\end{axis}

% ===== h =====
\begin{axis}[panel, at={(292pt,-609.5pt)}, height=158.5pt, ymin=-3, ymax=6, ytick={-3,-2,-1,0,1,2,3,4,5,6},
  ylabel style={at={(axis description cs:-0.098,0.5)}}]
\addplot[bandpoly] coordinates {(1959,4.22)(1960,3.41)(1961,2.89)(1962,2.56)(1963,2.27)(1964,2.18)(1965,2.23)(1966,1.80)(1967,1.66)(1968,1.71)(1969,1.61)(1970,1.56)(1971,1.47)(1972,1.37)(1973,1.28)(1974,1.04)(1975,0.85)(1976,1.04)(1977,1.37)(1978,1.04)(1979,0.76)(1980,0.57)(1981,0.47)(1982,0.38)(1983,0.33)(1984,0.47)(1985,0.52)(1986,0.57)(1987,0.71)(1988,0.38)(1989,0.11)(1990,0.24)(1991,0.33)(1992,0.33)(1993,0.33)(1994,0.28)(1995,0.09)(1996,-0.05)(1997,-0.14)(1998,-0.24)(1999,-0.28)(2000,-0.33)(2001,-0.43)(2002,-0.47)(2003,-0.52)(2004,-0.62)(2005,-0.71)(2006,-0.62)(2007,-0.43)(2008,-0.09)(2009,0.09)(2010,-0.09)
(2010,-3.03)(2009,-2.46)(2008,-2.09)(2007,-1.90)(2006,-2.04)(2005,-2.09)(2004,-2.04)(2003,-1.94)(2002,-1.85)(2001,-1.85)(2000,-1.80)(1999,-1.75)(1998,-1.66)(1997,-1.52)(1996,-1.37)(1995,-1.18)(1994,-0.95)(1993,-0.76)(1992,-0.66)(1991,-0.76)(1990,-0.90)(1989,-0.85)(1988,-0.71)(1987,-0.76)(1986,-0.81)(1985,-0.85)(1984,-0.95)(1983,-1.00)(1982,-1.04)(1981,-1.00)(1980,-0.85)(1979,-0.62)(1978,-0.38)(1977,-0.24)(1976,-0.14)(1975,-0.05)(1974,0.09)(1973,0.19)(1972,0.24)(1971,0.38)(1970,0.47)(1969,0.47)(1968,0.47)(1967,0.47)(1966,0.52)(1965,0.85)(1964,0.76)(1963,0.81)(1962,0.71)(1961,0.76)(1960,0.66)(1959,-0.74)} -- cycle;
\addplot[zero] coordinates {(1955,0) (2015,0)};
\addplot[yelline] table[x=yr,y=v]{\yelH};
\addplot[obs] table[x=yr,y=v]{\ptsH};
\addplot[reg] coordinates {(1958,1.54) (2011,-1.55)};
\node[ttl] at (rel axis cs:0.38,0.892) {DJF-DTR};
\node[eqn] at (rel axis cs:0.14,0.781) {y= -0.0583x+115.77};
\node[eqn] at (rel axis cs:0.543,0.666) {R\textsuperscript{2}= 0.4};
\node[eqn] at (rel axis cs:0.759,0.666) {p<0.01};
\end{axis}

% panel letters
\node[lett] at (13pt,-16.5pt) {a};
\node[lett] at (267pt,-16.5pt) {b};
\node[lett] at (13.6pt,-211pt) {c};
\node[lett] at (268pt,-212pt) {d};
\node[lett] at (13.6pt,-409pt) {e};
\node[lett] at (265.5pt,-409.5pt) {f};
\node[lett] at (13.6pt,-604.5pt) {g};
\node[lett] at (267pt,-605.5pt) {h};
\end{tikzpicture}
\end{document}
